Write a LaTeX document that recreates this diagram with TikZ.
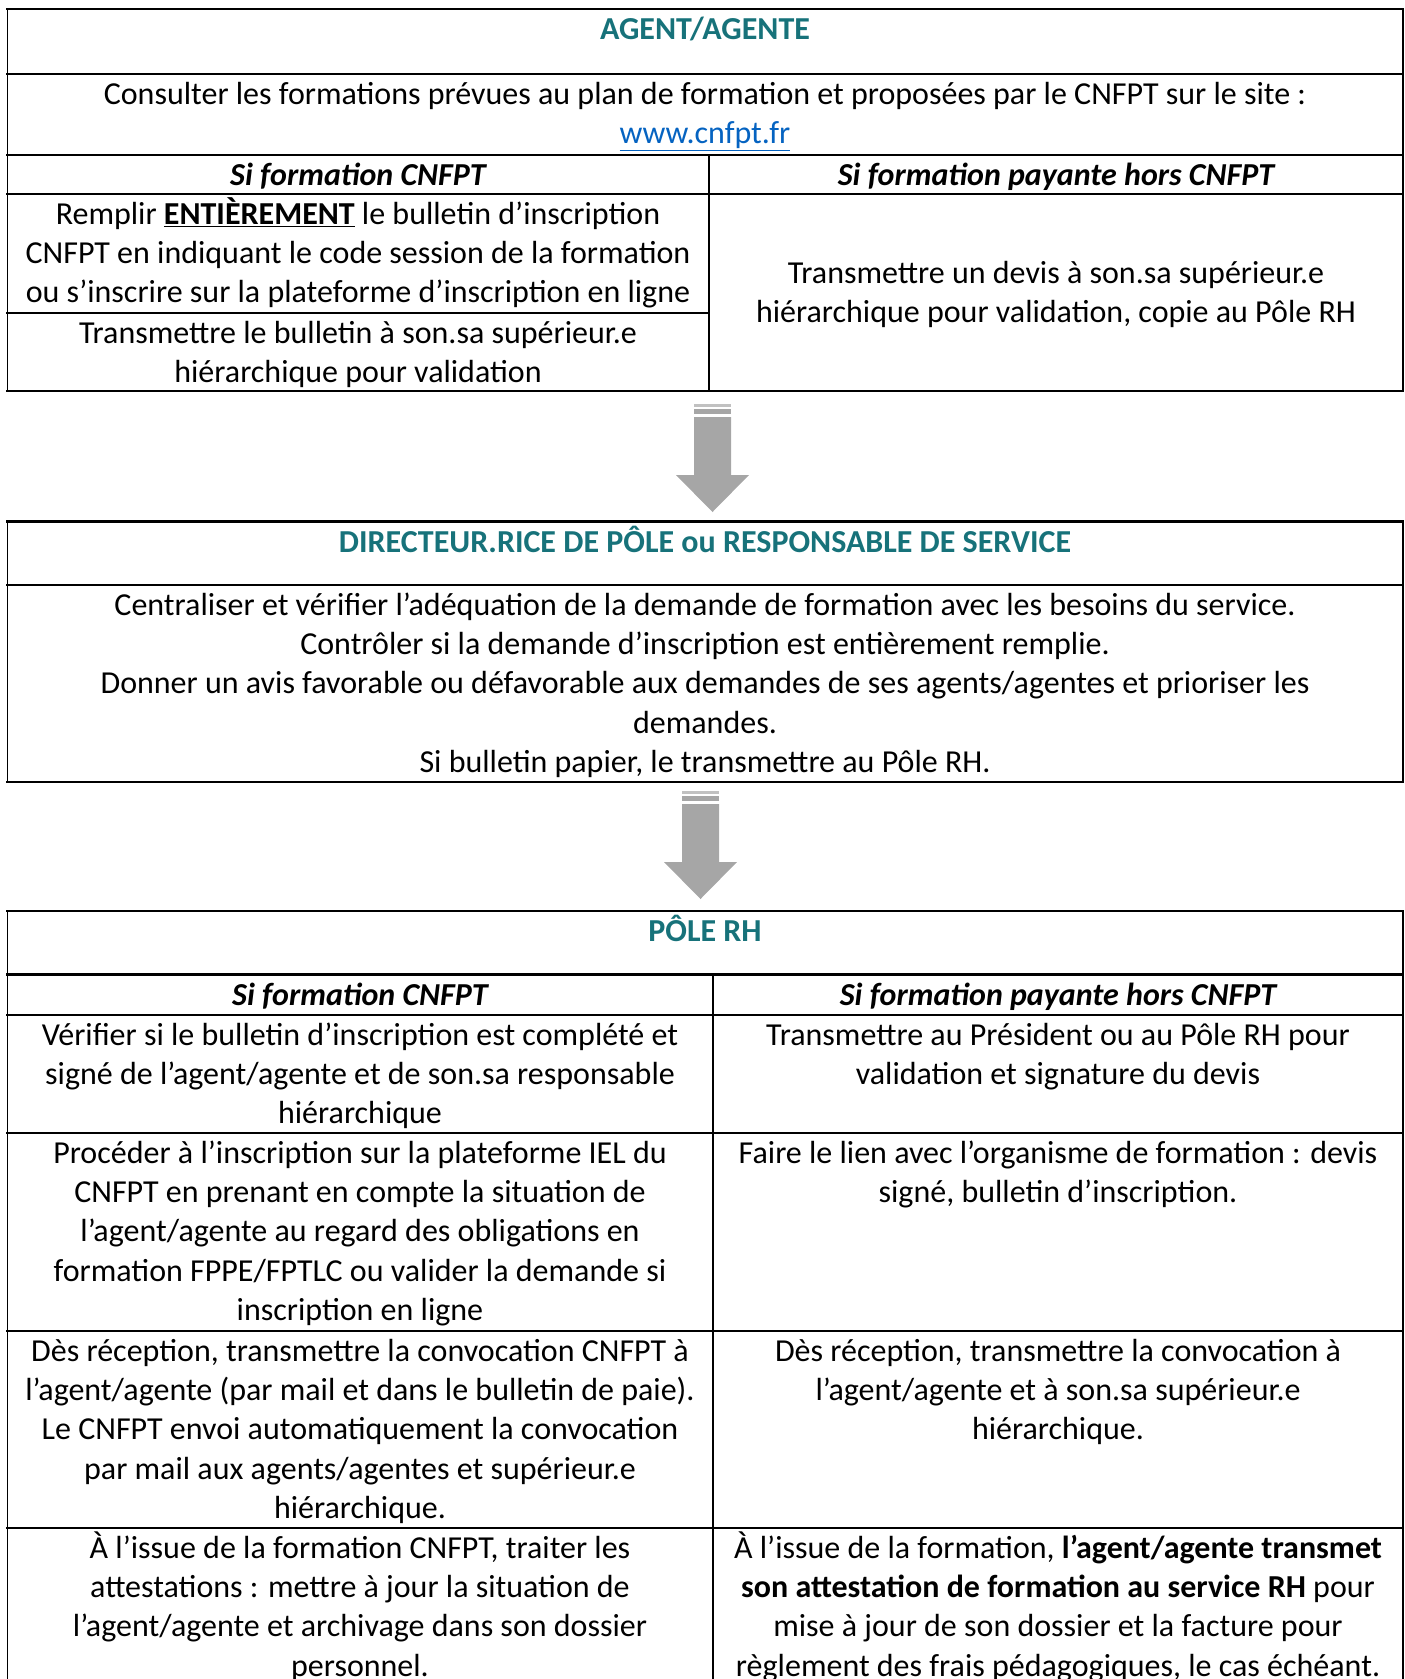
\documentclass[tikz,border=0pt]{standalone}
\usepackage{fontspec}
\setmainfont{Carlito}
\usetikzlibrary{positioning}

\definecolor{headteal}{HTML}{17727A}
\definecolor{linkblue}{HTML}{0563C1}
\definecolor{arrowgray}{HTML}{A6A6A6}
\newcommand\leadline{\rule{0pt}{30.5pt}}

\begin{document}
\begin{tikzpicture}[
    x=1pt, y=-1pt,
    cell/.style={anchor=north, align=center, inner sep=0pt, font=\fontsize{32}{39.1}\selectfont},
    head/.style={cell, font=\fontsize{32}{39.1}\selectfont\bfseries, text=headteal},
    colhead/.style={cell, font=\fontsize{32}{39.1}\selectfont\bfseries\itshape},
    hrule/.style={line width=2.2pt, line cap=rect},
    vrule/.style={line width=1.2pt},
    bigarrow/.pic={
        \fill[arrowgray!70] (-18.5,0) rectangle (18.5,3);
        \fill[arrowgray] (-18.5,5) rectangle (18.5,10);
        \fill[arrowgray] (-18.5,13) -- (18.5,13) -- (18.5,71) -- (36.5,71) -- (0,108) -- (-36.5,71) -- (-18.5,71) -- cycle;
    }
]
\useasboundingbox (0,0) rectangle (1405,1679);

% agent table
\draw[vrule] (7.5,8.6) -- (7.5,391) (1403,8.6) -- (1403,391) (709,155) -- (709,391);
\draw[hrule] (7.5,8.6) -- (1403,8.6) (7.5,74) -- (1403,74) (7.5,155) -- (1403,155)
    (7.5,194) -- (1403,194) (7.5,313) -- (709,313) (7.5,391) -- (1403,391);

\node[head] (agent) at (705,8.6) {\leadline AGENT/AGENTE};
\node[cell] (consult) at (705,74) {\leadline Consulter les formations prévues au plan de formation et proposées par le CNFPT sur le site :\\\textcolor{linkblue}{\underline{www.cnfpt.fr}}};
\node[colhead] (cnfptA) at (358,155) {\leadline Si formation CNFPT};
\node[colhead] (payA) at (1056,155) {\leadline Si formation payante hors CNFPT};
\node[cell] (remplir) at (358,194) {\leadline Remplir \textbf{\underline{ENTIÈREMENT}} le bulletin d’inscription\\CNFPT en indiquant le code session de la formation\\ou s’inscrire sur la plateforme d’inscription en ligne};
\node[cell] (bulletin) at (358,313) {\leadline Transmettre le bulletin à son.sa supérieur.e\\hiérarchique pour validation};
\node[cell] (devis) at (1056,253) {\leadline Transmettre un devis à son.sa supérieur.e\\hiérarchique pour validation, copie au Pôle RH};

\pic (arrowA) at (712.5,404) {bigarrow};

% director table
\draw[vrule] (7.5,521.5) -- (7.5,782) (1403,521.5) -- (1403,782);
\draw[hrule] (7.5,521.5) -- (1403,521.5) (7.5,585) -- (1403,585) (7.5,782) -- (1403,782);

\node[head] (director) at (705,521.5) {\leadline DIRECTEUR.RICE DE PÔLE ou RESPONSABLE DE SERVICE};
\node[cell] (central) at (705,585) {\leadline Centraliser et vérifier l’adéquation de la demande de formation avec les besoins du service.\\Contrôler si la demande d’inscription est entièrement remplie.\\Donner un avis favorable ou défavorable aux demandes de ses agents/agentes et prioriser les\\demandes.\\Si bulletin papier, le transmettre au Pôle RH.};

\pic (arrowB) at (700.5,791) {bigarrow};

% RH table
\draw[vrule] (7.5,911) -- (7.5,1690) (1403,911) -- (1403,1690) (713,974.5) -- (713,1690);
\draw[hrule] (7.5,911) -- (1403,911) (7.5,974.5) -- (1403,974.5) (7.5,1015) -- (1403,1015)
    (7.5,1133) -- (1403,1133) (7.5,1331) -- (1403,1331) (7.5,1528) -- (1403,1528);

\node[head] (rh) at (705,911) {\leadline PÔLE RH};
\node[colhead] (cnfptB) at (360,974.5) {\leadline Si formation CNFPT};
\node[colhead] (payB) at (1058,974.5) {\leadline Si formation payante hors CNFPT};
\node[cell] (verif) at (360,1015) {\leadline Vérifier si le bulletin d’inscription est complété et\\signé de l’agent/agente et de son.sa responsable\\hiérarchique};
\node[cell] (president) at (1058,1015) {\leadline Transmettre au Président ou au Pôle RH pour\\validation et signature du devis};
\node[cell] (proceder) at (360,1133) {\leadline Procéder à l’inscription sur la plateforme IEL du\\CNFPT en prenant en compte la situation de\\l’agent/agente au regard des obligations en\\formation FPPE/FPTLC ou valider la demande si\\inscription en ligne};
\node[cell] (lien) at (1058,1133) {\leadline Faire le lien avec l’organisme de formation : devis\\signé, bulletin d’inscription.};
\node[cell] (convA) at (360,1331) {\leadline Dès réception, transmettre la convocation CNFPT à\\l’agent/agente (par mail et dans le bulletin de paie).\\Le CNFPT envoi automatiquement la convocation\\par mail aux agents/agentes et supérieur.e\\hiérarchique.};
\node[cell] (convB) at (1058,1331) {\leadline Dès réception, transmettre la convocation à\\l’agent/agente et à son.sa supérieur.e\\hiérarchique.};
\node[cell] (issueA) at (360,1528) {\leadline À l’issue de la formation CNFPT, traiter les\\attestations : mettre à jour la situation de\\l’agent/agente et archivage dans son dossier\\personnel.};
\node[cell] (issueB) at (1058,1528) {\leadline À l’issue de la formation, \textbf{l’agent/agente transmet}\\\textbf{son attestation de formation au service RH} pour\\mise à jour de son dossier et la facture pour\\règlement des frais pédagogiques, le cas échéant.};
\end{tikzpicture}
\end{document}
